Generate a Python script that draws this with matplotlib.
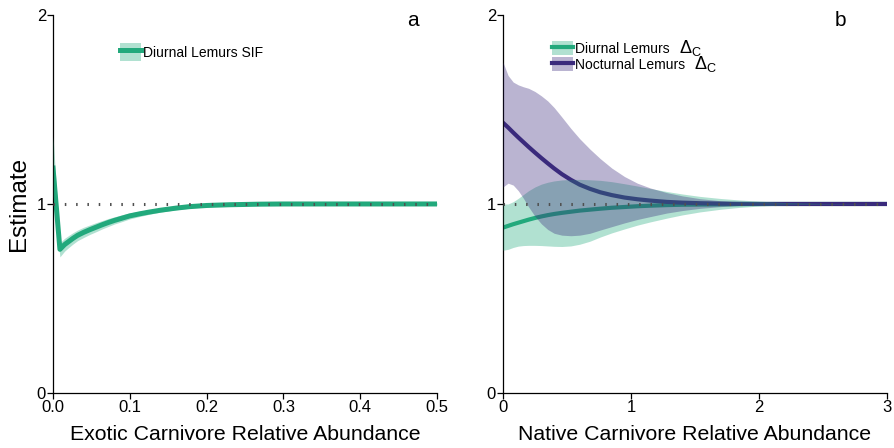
import matplotlib
matplotlib.use("Agg")
import matplotlib.pyplot as plt
from matplotlib.patches import Patch
from matplotlib.lines import Line2D

plt.rcParams["font.family"] = ["Liberation Sans", "DejaVu Sans"]
plt.rcParams["mathtext.fontset"] = "custom"
plt.rcParams["mathtext.rm"] = "Liberation Sans"
plt.rcParams["mathtext.it"] = "Liberation Sans"
plt.rcParams["mathtext.sf"] = "Liberation Sans"

GREEN = "#22a97c"
PURPLE = "#3a2a7c"

# ---- panel a: exotic carnivores, diurnal lemurs SIF ----
x_exotic = [0.0, 0.009, 0.015, 0.02, 0.026, 0.032, 0.04, 0.048, 0.056, 0.064, 0.072,
            0.08, 0.09, 0.1, 0.113, 0.125, 0.14, 0.16, 0.178, 0.2, 0.23, 0.27, 0.3,
            0.4, 0.5]
sif_mean = [1.19, 0.76, 0.785, 0.80, 0.818, 0.834, 0.85, 0.864, 0.877, 0.89, 0.902,
            0.913, 0.925, 0.937, 0.948, 0.957, 0.967, 0.978, 0.986, 0.992, 0.996,
            0.999, 1.0, 1.0, 1.0]
sif_lo = [1.04, 0.72, 0.75, 0.768, 0.788, 0.806, 0.823, 0.839, 0.853, 0.868, 0.881,
          0.894, 0.907, 0.921, 0.934, 0.945, 0.957, 0.969, 0.978, 0.985, 0.99,
          0.993, 0.994, 0.994, 0.994]
sif_hi = [1.36, 0.795, 0.818, 0.832, 0.848, 0.862, 0.877, 0.889, 0.901, 0.912, 0.923,
          0.932, 0.943, 0.953, 0.962, 0.969, 0.978, 0.987, 0.993, 0.998, 1.002,
          1.005, 1.006, 1.006, 1.006]

# ---- panel b: native carnivores, delta_C ----
x_native = [0.0, 0.04, 0.08, 0.12, 0.16, 0.2, 0.25, 0.3, 0.35, 0.4, 0.46, 0.53, 0.6,
            0.68, 0.76, 0.85, 0.95, 1.05, 1.15, 1.28, 1.4, 1.54, 1.7, 1.85, 2.0,
            2.2, 2.5, 3.0]
diur_mean = [0.875, 0.884, 0.893, 0.901, 0.909, 0.917, 0.926, 0.934, 0.941, 0.947,
             0.953, 0.959, 0.965, 0.970, 0.975, 0.980, 0.984, 0.988, 0.991, 0.994,
             0.996, 0.997, 0.998, 0.999, 1.0, 1.0, 1.0, 1.0]
diur_lo = [0.755, 0.76, 0.77, 0.777, 0.78, 0.781, 0.781, 0.78, 0.778, 0.776, 0.775,
           0.778, 0.787, 0.803, 0.825, 0.847, 0.868, 0.888, 0.905, 0.925, 0.942,
           0.958, 0.972, 0.982, 0.989, 0.995, 0.999, 1.0]
diur_hi = [1.0, 1.0, 1.012, 1.03, 1.05, 1.07, 1.09, 1.105, 1.115, 1.122, 1.127, 1.13,
           1.13, 1.128, 1.125, 1.118, 1.107, 1.095, 1.082, 1.066, 1.053, 1.04, 1.029,
           1.021, 1.015, 1.008, 1.003, 1.0]
noct_mean = [1.43, 1.405, 1.378, 1.352, 1.327, 1.302, 1.272, 1.243, 1.215, 1.188,
             1.158, 1.128, 1.102, 1.08, 1.062, 1.047, 1.034, 1.025, 1.018, 1.011,
             1.007, 1.004, 1.002, 1.001, 1.0, 1.0, 1.0, 1.0]
noct_lo = [1.09, 1.11, 1.10, 1.07, 1.03, 0.985, 0.935, 0.895, 0.865, 0.845, 0.835,
           0.832, 0.835, 0.845, 0.862, 0.88, 0.90, 0.918, 0.933, 0.952, 0.965, 0.977,
           0.986, 0.992, 0.996, 0.998, 0.9995, 1.0]
noct_hi = [1.75, 1.68, 1.645, 1.63, 1.62, 1.612, 1.595, 1.572, 1.545, 1.51, 1.46,
           1.40, 1.345, 1.29, 1.24, 1.19, 1.145, 1.11, 1.085, 1.06, 1.043, 1.028,
           1.017, 1.01, 1.006, 1.003, 1.001, 1.0]


def style_axes(ax, xlim, xticks, xticklabels, xlabel):
    ax.set_xlim(*xlim)
    ax.set_ylim(0, 2)
    ax.set_xticks(xticks)
    ax.set_xticklabels(xticklabels)
    ax.set_yticks([0, 1, 2])
    for s in ("top", "right"):
        ax.spines[s].set_visible(False)
    for s in ("left", "bottom"):
        ax.spines[s].set_linewidth(0.9)
    ax.tick_params(length=4, width=0.9, labelsize=12, pad=1)
    ax.set_xlabel(xlabel, fontsize=15.3, labelpad=7)
    ax.hlines(1, xlim[0], xlim[1], colors="#505050", linewidth=2.2,
              linestyles=(0, (0.5, 3.2)), zorder=5)


fig = plt.figure(figsize=(8.94, 4.48), dpi=100)
ax_a = fig.add_axes([0.0593, 0.1228, 0.4295, 0.8438])
ax_b = fig.add_axes([0.5626, 0.1228, 0.4295, 0.8438])

# panel a
ax_a.fill_between(x_exotic, sif_lo, sif_hi, color=GREEN, alpha=0.35, lw=0, zorder=3)
ax_a.plot(x_exotic, sif_mean, color=GREEN, lw=3.6, zorder=2)
style_axes(ax_a, (0, 0.5), [0, 0.1, 0.2, 0.3, 0.4, 0.5],
           ["0.0", "0.1", "0.2", "0.3", "0.4", "0.5"],
           "Exotic Carnivore Relative Abundance")
ax_a.set_ylabel("Estimate", fontsize=17.5, labelpad=5)
ax_a.text(0.9375, 0.985, "a", transform=ax_a.transAxes, fontsize=15, ha="center", va="center")
h_a = (Patch(facecolor=GREEN, alpha=0.35, lw=0), Line2D([], [], color=GREEN, lw=3.6))
ax_a.legend([h_a], ["Diurnal Lemurs SIF"], loc="upper left", bbox_to_anchor=(0.174, 0.925),
            frameon=False, fontsize=10, handlelength=1.5, handleheight=1.6,
            handletextpad=0.15, borderpad=0, borderaxespad=0)

# panel b
ax_b.plot(x_native, diur_mean, color=GREEN, lw=3.0, zorder=2)
ax_b.plot(x_native, noct_mean, color=PURPLE, lw=3.0, zorder=2)
ax_b.fill_between(x_native, diur_lo, diur_hi, color=GREEN, alpha=0.35, lw=0, zorder=3)
ax_b.fill_between(x_native, noct_lo, noct_hi, color=PURPLE, alpha=0.35, lw=0, zorder=3)
style_axes(ax_b, (0, 3), [0, 1, 2, 3], ["0", "1", "2", "3"],
           "Native Carnivore Relative Abundance")
ax_b.text(0.878, 0.985, "b", transform=ax_b.transAxes, fontsize=15, ha="center", va="center")
h_d = (Patch(facecolor=GREEN, alpha=0.35, lw=0), Line2D([], [], color=GREEN, lw=3.0))
h_n = (Patch(facecolor=PURPLE, alpha=0.35, lw=0), Line2D([], [], color=PURPLE, lw=3.0))
leg_b = ax_b.legend([h_d, h_n], ["Diurnal Lemurs", "Nocturnal Lemurs"],
                    loc="upper left", bbox_to_anchor=(0.128, 0.93), frameon=False,
                    fontsize=10, handlelength=1.5, handleheight=1.15, handletextpad=0.15,
                    labelspacing=0.1, borderpad=0, borderaxespad=0)

# delta_C symbols after the legend labels, slightly larger than the label text
fig.canvas.draw()
W, H = fig.get_size_inches() * fig.dpi
for t in leg_b.get_texts():
    bb = t.get_window_extent()
    fig.text((bb.x1 + 9) / W, (bb.y0 + 3) / H, r"$\Delta_{\mathrm{C}}$",
             fontsize=13, ha="left", va="baseline")

fig.savefig("out.png", dpi=100)
